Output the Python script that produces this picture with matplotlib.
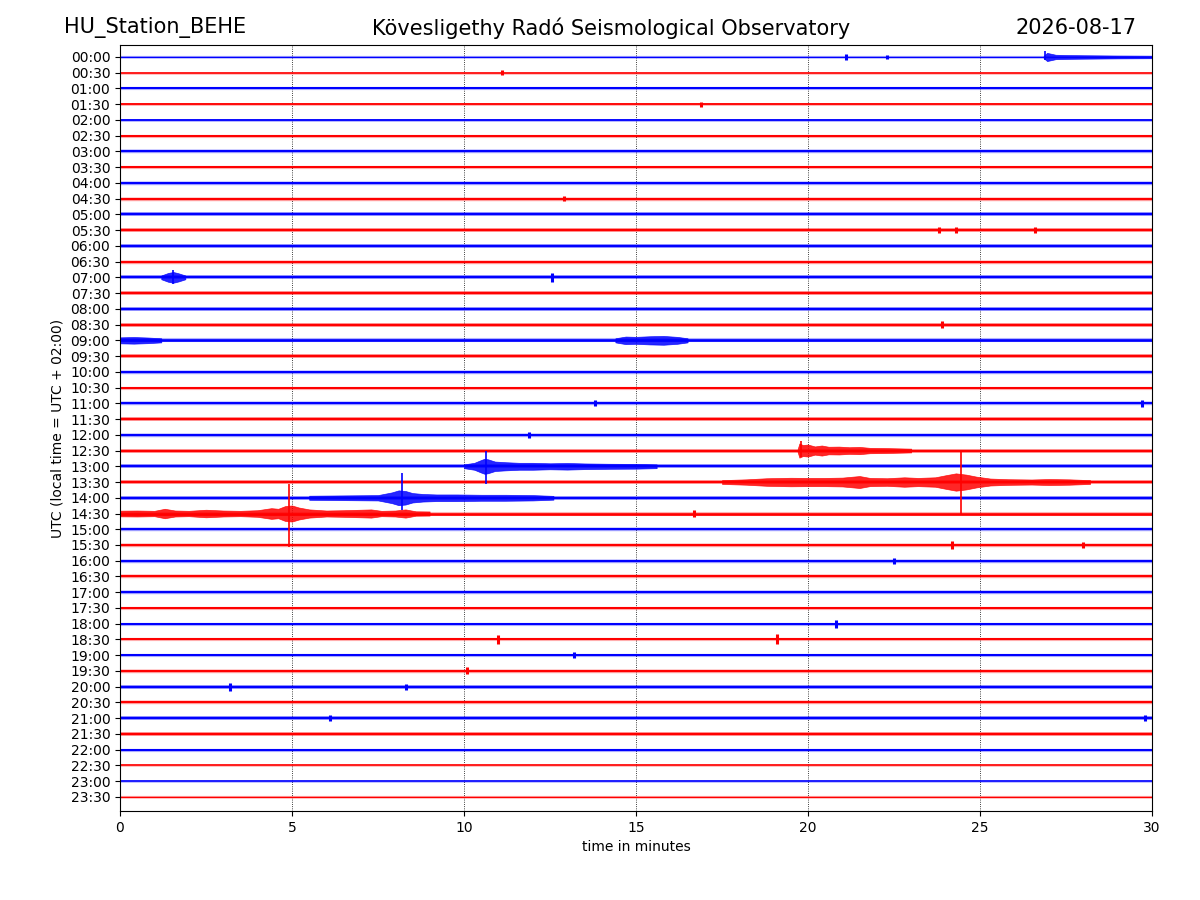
import numpy as np
import matplotlib
matplotlib.use('Agg')
import matplotlib.pyplot as plt

# hour labels, one trace every 30 minutes
row_labels = ['%02d:%02d' % (h, m) for h in range(24) for m in (0, 30)]
row_colors = ['blue', 'red'] * 24

# background noise half-width of every trace (in row units)
noise = [0.07, 0.08, 0.10, 0.09, 0.09, 0.10, 0.11, 0.10, 0.11, 0.11, 0.12, 0.12,
         0.12, 0.11, 0.12, 0.12, 0.12, 0.12, 0.13, 0.12, 0.11, 0.10, 0.11, 0.12,
         0.11, 0.12, 0.12, 0.12, 0.12, 0.13, 0.11, 0.11, 0.11, 0.11, 0.11, 0.10,
         0.10, 0.10, 0.10, 0.11, 0.12, 0.11, 0.12, 0.12, 0.10, 0.08, 0.08, 0.07]

# longer events: row index, times (min), half amplitude
event_rows = [0, 14, 18, 18, 25, 26, 27, 28, 29]
event_times = [
    [26.85, 26.95, 27.2, 27.6, 28.0, 28.5, 29.0, 30.0],
    [1.2, 1.4, 1.55, 1.7, 1.9],
    [0.0, 0.4, 0.8, 1.2],
    [14.4, 14.7, 15.0, 15.4, 15.8, 16.2, 16.5],
    [19.7, 19.75, 19.85, 20.0, 20.2, 20.4, 20.6, 20.9, 21.2, 21.5, 21.8, 22.2, 22.6, 23.0],
    [10.0, 10.3, 10.5, 10.6, 10.7, 10.9, 11.2, 11.6, 12.0, 12.5, 13.0, 13.5, 14.2, 15.0, 15.6],
    [17.5, 18.2, 18.8, 19.5, 20.0, 20.5, 21.0, 21.5, 21.8, 22.3, 22.8, 23.2, 23.7, 24.0,
     24.3, 24.6, 24.9, 25.3, 25.8, 26.5, 27.0, 27.6, 28.2],
    [5.5, 6.5, 7.5, 7.9, 8.1, 8.3, 8.5, 8.8, 9.2, 9.8, 10.5, 11.2, 12.0, 12.6],
    [0.0, 0.5, 1.0, 1.3, 1.6, 2.0, 2.5, 3.0, 3.5, 4.0, 4.4, 4.6, 4.8, 5.0, 5.2, 5.5,
     6.0, 6.5, 7.0, 7.3, 7.6, 8.0, 8.3, 8.6, 9.0],
]
event_amps = [
    [0.07, 0.26, 0.14, 0.12, 0.11, 0.10, 0.09, 0.08],
    [0.12, 0.28, 0.34, 0.26, 0.12],
    [0.19, 0.21, 0.18, 0.13],
    [0.13, 0.24, 0.22, 0.26, 0.28, 0.22, 0.13],
    [0.10, 0.45, 0.35, 0.38, 0.26, 0.32, 0.24, 0.25, 0.21, 0.23, 0.17, 0.16, 0.14, 0.12],
    [0.12, 0.22, 0.40, 0.48, 0.44, 0.30, 0.26, 0.22, 0.22, 0.19, 0.21, 0.18, 0.16, 0.15, 0.12],
    [0.12, 0.17, 0.24, 0.27, 0.26, 0.26, 0.28, 0.38, 0.26, 0.24, 0.30, 0.26, 0.30, 0.43,
     0.55, 0.47, 0.34, 0.22, 0.18, 0.16, 0.19, 0.17, 0.12],
    [0.13, 0.15, 0.17, 0.34, 0.47, 0.43, 0.30, 0.24, 0.21, 0.21, 0.19, 0.19, 0.17, 0.12],
    [0.18, 0.19, 0.17, 0.30, 0.19, 0.17, 0.24, 0.19, 0.17, 0.21, 0.34, 0.30, 0.47, 0.51,
     0.38, 0.26, 0.19, 0.21, 0.24, 0.26, 0.17, 0.19, 0.26, 0.14, 0.13],
]

# sharp spikes: row, time, amplitude up, amplitude down
spike_rows = [0, 14, 25, 26, 27, 28, 29]
spike_times = [26.9, 1.55, 19.8, 10.65, 24.45, 8.2, 4.9]
spike_up = [0.35, 0.45, 0.6, 1.0, 1.9, 1.6, 1.9]
spike_down = [0.2, 0.4, 0.4, 1.1, 2.0, 0.8, 2.1]

# small isolated blips
blip_rows = [0, 0, 1, 3, 9, 11, 11, 11, 14, 17, 22, 22, 24, 29, 31, 31, 32, 36, 37, 37,
             38, 39, 40, 40, 42, 42]
blip_times = [21.1, 22.3, 11.1, 16.9, 12.9, 23.8, 24.3, 26.6, 12.55, 23.9, 13.8, 29.7,
              11.9, 16.7, 24.2, 28.0, 22.5, 20.8, 11.0, 19.1, 13.2, 10.1, 3.2, 8.3, 6.1, 29.8]
blip_amps = [0.2, 0.12, 0.15, 0.15, 0.15, 0.2, 0.2, 0.2, 0.28, 0.22, 0.2, 0.22, 0.2, 0.25,
             0.25, 0.2, 0.2, 0.25, 0.3, 0.32, 0.2, 0.22, 0.25, 0.2, 0.18, 0.2]

fig = plt.figure(figsize=(12, 9), dpi=100)
ax = fig.add_axes([0.1, 0.099, 0.86, 0.851])

px = 0.0635  # one pixel in row units
for i in range(len(row_labels)):
    y = -i
    w = 2 * noise[i] / px * 0.72
    ax.hlines(y, 0, 30, color=row_colors[i], linewidth=w, alpha=0.3)
    ax.hlines(y, 0, 30, color=row_colors[i], linewidth=w * 0.65)

for r, ts, am in zip(event_rows, event_times, event_amps):
    ts = np.array(ts)
    am = np.array(am)
    ax.fill_between(ts, -r - am, -r + am, color=row_colors[r], linewidth=0.5,
                    edgecolor=row_colors[r], alpha=0.85)

for r, t, up, dn in zip(spike_rows, spike_times, spike_up, spike_down):
    ax.vlines(t, -r - dn, -r + up, color=row_colors[r], linewidth=1.2)

for r, t, a in zip(blip_rows, blip_times, blip_amps):
    ax.vlines(t, -r - a, -r + a, color=row_colors[r], linewidth=2.2)

ax.set_xlim(0, 30)
ax.set_ylim(-47 - 0.89, 0.76)
ax.set_yticks([-i for i in range(len(row_labels))])
ax.set_yticklabels(row_labels)
ax.set_xticks([0, 5, 10, 15, 20, 25, 30])
ax.xaxis.grid(True, linestyle=':', color='black', linewidth=0.6)
ax.set_axisbelow(True)
ax.set_xlabel('time in minutes')
ax.set_ylabel('UTC (local time = UTC + 02:00)')

fig.text(0.053, 0.969, 'HU_Station_BEHE', fontsize=15, ha='left', va='center')
fig.text(0.509, 0.969, 'Kövesligethy Radó Seismological Observatory', fontsize=15,
         ha='center', va='center')
fig.text(0.947, 0.969, '2026-08-17', fontsize=15, ha='right', va='center')

fig.savefig('out.png', dpi=100)
